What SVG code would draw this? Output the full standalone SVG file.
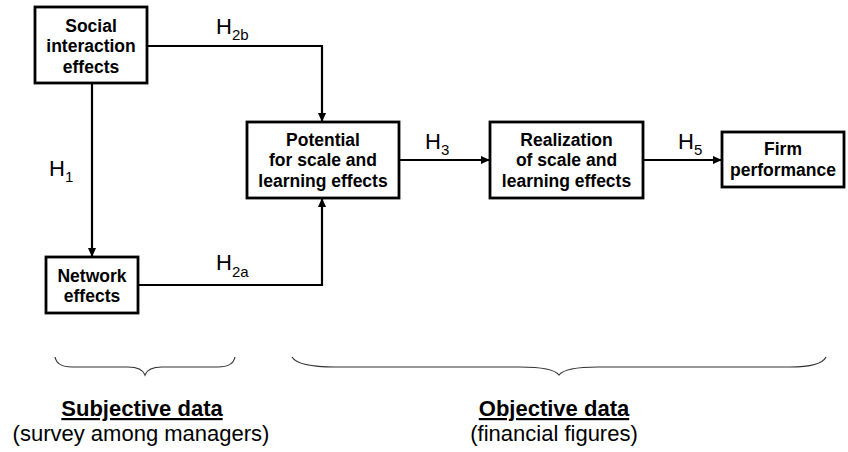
<svg xmlns="http://www.w3.org/2000/svg" width="848" height="452" viewBox="0 0 848 452">
  <defs>
    <marker id="arrow" markerUnits="userSpaceOnUse" markerWidth="9" markerHeight="9" refX="9" refY="4.5" orient="auto">
      <path d="M0,0.5 L9,4.5 L0,8.5 z" fill="#000"/>
    </marker>
  </defs>
  <style>
    .box { fill: #fff; stroke: #000; stroke-width: 2.8; }
    .lbl { font-family: "Liberation Sans", Arial, sans-serif; font-weight: bold; font-size: 17.5px; text-anchor: middle; fill: #000; }
    .hyp { font-family: "Liberation Sans", Arial, sans-serif; font-size: 22px; fill: #000; }
    .sub { font-size: 15px; }
    .edge { fill: none; stroke: #000; stroke-width: 2.2; marker-end: url(#arrow); }
    .brace { fill: none; stroke: #333; stroke-width: 1.2; }
    .cap { font-family: "Liberation Sans", Arial, sans-serif; font-size: 22px; text-anchor: middle; fill: #000; }
    .capb { font-weight: bold; text-decoration: underline; }
  </style>
  <rect width="848" height="452" fill="#fff"/>

  <!-- connectors -->
  <g id="connectors">
    <path class="edge" d="M92,83 L92,257"/>
    <path class="edge" d="M147,46 L322,46 L322,122"/>
    <path class="edge" d="M138,285 L322,285 L322,198"/>
    <path class="edge" d="M399,160 L490,160"/>
    <path class="edge" d="M643,160 L722,160"/>
  </g>

  <!-- hypothesis labels -->
  <g id="hypotheses">
    <text class="hyp" x="216" y="34">H<tspan class="sub" dy="6">2b</tspan></text>
    <text class="hyp" x="49" y="176">H<tspan class="sub" dy="6">1</tspan></text>
    <text class="hyp" x="216" y="270">H<tspan class="sub" dy="7">2a</tspan></text>
    <text class="hyp" x="425" y="149">H<tspan class="sub" dy="6">3</tspan></text>
    <text class="hyp" x="678" y="149">H<tspan class="sub" dy="6">5</tspan></text>
  </g>

  <!-- nodes -->
  <g id="social">
    <rect class="box" x="35" y="7" width="112" height="76"/>
    <text class="lbl" x="91" y="31.5">Social</text>
    <text class="lbl" x="91" y="52">interaction</text>
    <text class="lbl" x="91" y="72.5">effects</text>
  </g>
  <g id="network">
    <rect class="box" x="46" y="257" width="92" height="56"/>
    <text class="lbl" x="92" y="281.5">Network</text>
    <text class="lbl" x="92" y="302">effects</text>
  </g>
  <g id="potential">
    <rect class="box" x="247" y="122" width="152" height="76"/>
    <text class="lbl" x="323" y="145.5">Potential</text>
    <text class="lbl" x="323" y="166">for scale and</text>
    <text class="lbl" x="323" y="186.5">learning effects</text>
  </g>
  <g id="realization">
    <rect class="box" x="490" y="122" width="153" height="76"/>
    <text class="lbl" x="566.5" y="145.5">Realization</text>
    <text class="lbl" x="566.5" y="166">of scale and</text>
    <text class="lbl" x="566.5" y="186.5">learning effects</text>
  </g>
  <g id="performance">
    <rect class="box" x="722" y="132" width="122" height="55"/>
    <text class="lbl" x="783" y="155">Firm</text>
    <text class="lbl" x="783" y="175.5">performance</text>
  </g>

  <!-- data source braces and captions -->
  <g id="subjective">
    <path class="brace" d="M55,357 Q57,367 72,367 L128,367 Q142,367 145,375 Q148,367 162,367 L218,367 Q233,367 235,357"/>
    <text class="cap capb" x="142" y="416">Subjective data</text>
    <text class="cap" x="141" y="441">(survey among managers)</text>
  </g>
  <g id="objective">
    <path class="brace" d="M292,357 Q298,367 335,367 L520,367 Q553,367 559,375 Q565,367 598,367 L790,367 Q821,367 826,357"/>
    <text class="cap capb" x="554" y="416">Objective data</text>
    <text class="cap" x="554" y="441">(financial figures)</text>
  </g>
</svg>
